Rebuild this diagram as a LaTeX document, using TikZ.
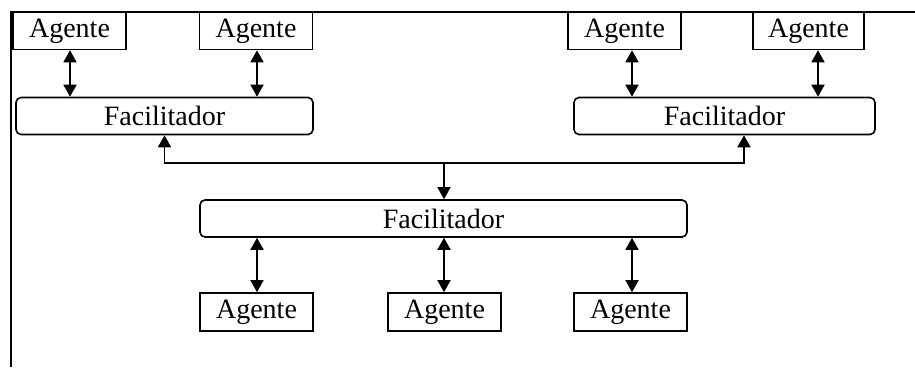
\documentclass[tikz,border=0pt]{standalone}
\usepackage{fontspec}
\setmainfont{Liberation Serif}
\usetikzlibrary{arrows.meta,calc}
\begin{document}
\begin{tikzpicture}[x=1pt,y=-1pt,
  labelfont/.style={font=\fontsize{28}{30}\selectfont},
  agentbox/.style={draw, line width=1.6pt, minimum width=113pt,
    minimum height=37pt, inner sep=0pt, labelfont},
  facbox/.style={draw, line width=1.6pt, rounded corners=5pt,
    minimum height=37pt, inner sep=0pt, labelfont},
  link/.style={line width=1.8pt,
    {Triangle[width=13pt,length=12pt]}-{Triangle[width=13pt,length=12pt]}},
  uplink/.style={line width=1.8pt, -{Triangle[width=13pt,length=12pt]}},
  frame/.style={line width=1.6pt}
]
\useasboundingbox (0,0) rectangle (915,367);

% outer frame: top and left edges only
\draw[frame] (11,367) -- (11,12) -- (915,12);

% upper-left group
\node[agentbox] (a1) at (69.5,31) {Agente};
\node[agentbox] (a2) at (256,31) {Agente};
\node[facbox, minimum width=297pt] (f1) at (164.5,116) {Facilitador};

% upper-right group
\node[agentbox] (a3) at (624.5,31) {Agente};
\node[agentbox, minimum width=111pt] (a4) at (808.5,31) {Agente};
\node[facbox, minimum width=301pt] (f2) at (724.5,116) {Facilitador};

% central facilitator and its agents
\node[facbox, minimum width=487pt] (f0) at (443.5,218.5) {Facilitador};
\node[agentbox, minimum height=38pt] (a5) at (256.5,312) {Agente};
\node[agentbox, minimum height=38pt] (a6) at (444.5,312) {Agente};
\node[agentbox, minimum height=38pt] (a7) at (630.5,312) {Agente};

% agent <-> facilitator links
\draw[link] ([xshift=0.5pt]a1.south) -- ([xshift=0.5pt]a1.south |- f1.north);
\draw[link] ([xshift=1pt]a2.south) -- ([xshift=1pt]a2.south |- f1.north);
\draw[link] ([xshift=7.5pt]a3.south) -- ([xshift=7.5pt]a3.south |- f2.north);
\draw[link] ([xshift=9.5pt]a4.south) -- ([xshift=9.5pt]a4.south |- f2.north);
\draw[link] ([xshift=0.5pt]a5.north) -- ([xshift=0.5pt]a5.north |- f0.south);
\draw[link] ([xshift=-0.5pt]a6.north) -- ([xshift=-0.5pt]a6.north |- f0.south);
\draw[link] ([xshift=1.5pt]a7.north) -- ([xshift=1.5pt]a7.north |- f0.south);

% facilitator tree
\coordinate (hub) at (444,163);
\draw[uplink] (hub) -| (f1.south);
\draw[uplink] (hub) -| ([xshift=19.5pt]f2.south);
\draw[uplink] (hub) -- (hub |- f0.north);
\end{tikzpicture}
\end{document}
